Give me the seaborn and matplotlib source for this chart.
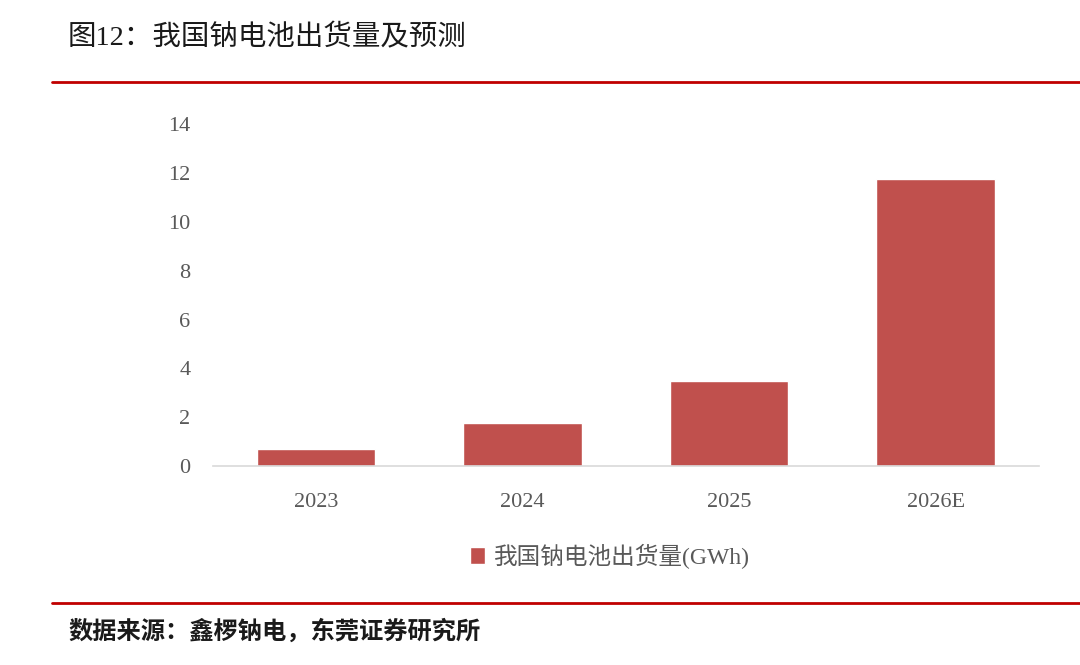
import matplotlib
matplotlib.use('Agg')
import matplotlib.pyplot as plt
import seaborn as sns
import pandas as pd

# Data
years = ['2023', '2024', '2025', '2026E']
shipments = [0.71, 1.76, 3.47, 11.75]
series_label = '我国钠电池出货量(GWh)'
title = '图12：我国钠电池出货量及预测'
source = '数据来源：鑫椤钠电，东莞证券研究所'

sns.set_theme(style='white')
plt.rcParams['font.family'] = ['Liberation Serif', 'Noto Sans CJK SC', 'DejaVu Sans']

df = pd.DataFrame({'year': years, 'value': shipments})

fig = plt.figure(figsize=(10.8, 6.65), dpi=100)
ax = fig.add_axes([0.197, 0.299, 0.765, 0.5143])

sns.barplot(data=df, x='year', y='value', color='#C0504D', saturation=1,
            width=0.574, label=series_label, ax=ax)

ax.set_ylim(0, 14)
ax.set_xlim(-0.5, 3.5)
ax.set_yticks(range(0, 15, 2))
ax.set_xlabel('')
ax.set_ylabel('')
for s in ['top', 'right', 'left']:
    ax.spines[s].set_visible(False)
ax.spines['bottom'].set_color('#d9d9d9')
ax.spines['bottom'].set_linewidth(1.2)
ax.tick_params(axis='both', length=0, labelsize=16, labelcolor='#595959')
ax.tick_params(axis='y', pad=16)
ax.tick_params(axis='x', pad=19)

ax.legend(loc='center', bbox_to_anchor=(610 / 1080, 1 - 556 / 665),
          bbox_transform=fig.transFigure, frameon=False, fontsize=17,
          handlelength=0.65, handleheight=0.75, handletextpad=0.4,
          labelcolor='#595959')

# Header and footer
fig.text(68 / 1080, 1 - 38 / 665, title, fontsize=20.5, color='#1a1a1a',
         va='center', ha='left')
fig.add_artist(plt.Line2D([52 / 1080, 1], [1 - 82 / 665, 1 - 82 / 665],
                          color='#c00000', linewidth=2))
fig.add_artist(plt.Line2D([52 / 1080, 1], [1 - 603 / 665, 1 - 603 / 665],
                          color='#c00000', linewidth=2))
fig.text(68 / 1080, 1 - 632 / 665, source, fontsize=17.5, color='#1a1a1a',
         va='center', ha='left', family=['Noto Sans CJK SC', 'DejaVu Sans'],
         weight='bold')

fig.savefig('out.png', dpi=100)
plt.close(fig)
